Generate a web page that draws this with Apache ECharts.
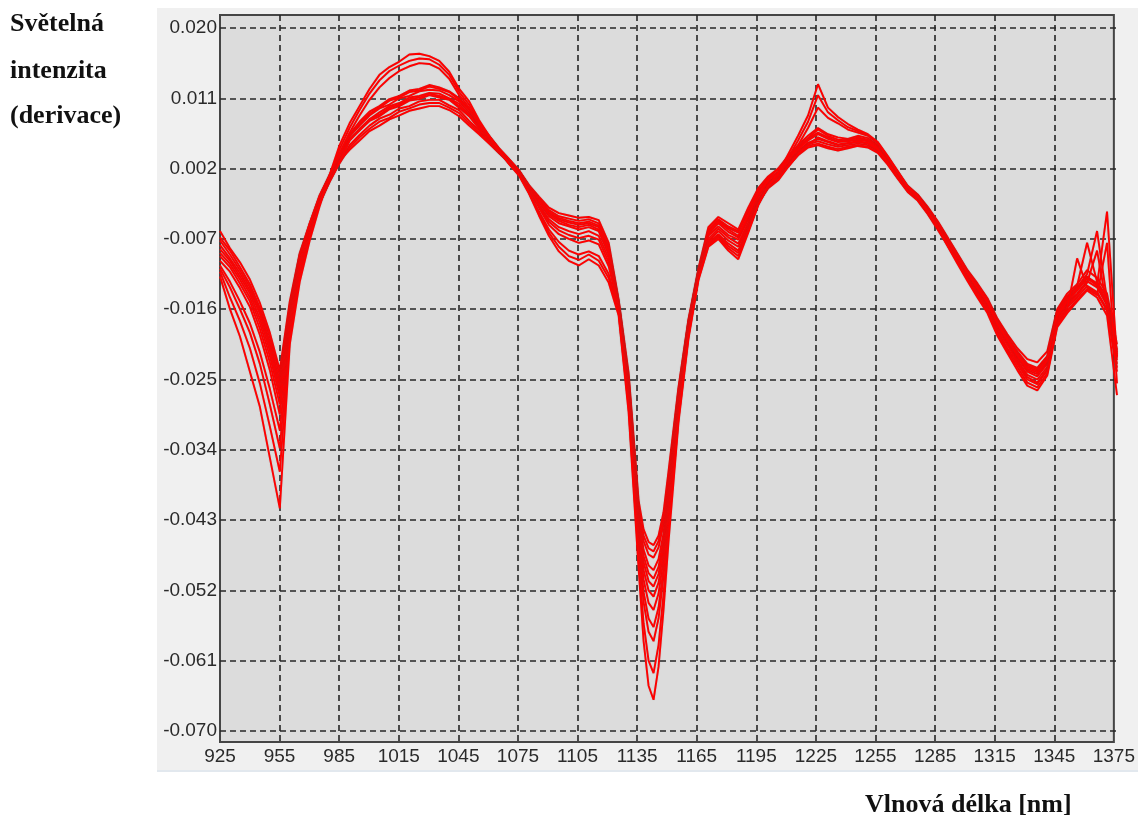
<!DOCTYPE html>
<html>
<head>
<meta charset="utf-8">
<script src="https://cdn.jsdelivr.net/npm/echarts@6/dist/echarts.min.js"></script>
<style>
html,body{margin:0;padding:0;background:#ffffff;}
#panel{position:absolute;left:157px;top:8px;width:981px;height:762px;background:#f0f0f0;border-bottom:2px solid #e2e8ee;}
#chart{position:absolute;left:0;top:0;width:1138px;height:816px;}
</style>
</head>
<body>
<div id="panel"></div>
<div id="chart"></div>
<script>
// Wavelengths [nm]
const wavelengths = [925,930,935,940,945,950,955,960,965,970,975,980,985,990,995,1000,1005,1010,1015,1020,1025,1030,1035,1040,1045,1050,1055,1060,1065,1070,1075,1080,1085,1090,1095,1100,1105,1110,1115,1120,1125,1130,1135,1137.5,1140,1142.5,1145,1147.5,1150,1155,1160,1165,1170,1175,1180,1185,1190,1195,1200,1205,1210,1215,1220,1225,1230,1235,1240,1245,1250,1255,1260,1265,1270,1275,1280,1285,1290,1295,1300,1305,1310,1315,1320,1325,1330,1335,1340,1345,1350,1355,1360,1365,1370,1375];

// Derivative spectra (light intensity derivative), one array per sample
const spectrum1 = [-0.0060,-0.0082,-0.0100,-0.0122,-0.0152,-0.0190,-0.0238,-0.0150,
 -0.0088,-0.0050,-0.0014,0.0012,0.0038,0.0064,0.0080,0.0093,0.0100,0.0109,0.0113,0.0120,0.0122,0.0127,0.0124,0.0119,0.0110,0.0096,0.0079,0.0062,0.0046,0.0032,0.0018,
 -0.0001,-0.0016,-0.0030,-0.0037,-0.0040,-0.0043,-0.0042,-0.0046,-0.0075,
 -0.0148,-0.0242,-0.0405,-0.0442,-0.0458,-0.0462,-0.0450,-0.0420,-0.0368,-0.0260,-0.0173,-0.0108,
 -0.0055,-0.0042,-0.0050,-0.0058,-0.0030,-0.0005,0.0010,0.0020,0.0036,0.0050,0.0062,
 0.0072,0.0064,0.0060,0.0058,0.0062,0.0059,0.0050,0.0034,0.0016,-0.0002,
 -0.0013,-0.0029,-0.0047,-0.0068,-0.0089,-0.0110,-0.0127,-0.0146,-0.0172,-0.0192,-0.0210,-0.0224,-0.0228,-0.0214,
 -0.0160,-0.0140,-0.0128,-0.0110,-0.0120,-0.0140,-0.0205];
const spectrum2 = [-0.0068,-0.0085,-0.0106,-0.0128,-0.0158,-0.0196,-0.0245,-0.0155,
 -0.0090,-0.0053,-0.0017,0.0010,0.0034,0.0061,0.0075,0.0088,0.0097,0.0102,0.0110,0.0113,0.0119,0.0121,0.0120,0.0114,0.0106,0.0092,0.0076,0.0061,0.0045,0.0031,0.0017,
 -0.0002,-0.0018,-0.0033,-0.0041,-0.0044,-0.0047,-0.0045,-0.0050,-0.0080,
 -0.0150,-0.0248,-0.0412,-0.0450,-0.0466,-0.0470,-0.0457,-0.0428,-0.0375,-0.0264,-0.0175,-0.0110,
 -0.0060,-0.0046,-0.0056,-0.0062,-0.0036,-0.0010,0.0006,0.0016,0.0031,0.0046,0.0058,
 0.0066,0.0060,0.0055,0.0057,0.0059,0.0056,0.0048,0.0032,0.0014,-0.0004,
 -0.0015,-0.0031,-0.0050,-0.0070,-0.0091,-0.0112,-0.0130,-0.0148,-0.0175,-0.0195,-0.0214,-0.0230,-0.0235,-0.0220,
 -0.0163,-0.0145,-0.0130,-0.0075,-0.0125,-0.0145,-0.0212];
const spectrum3 = [-0.0072,-0.0090,-0.0110,-0.0132,-0.0162,-0.0202,-0.0252,-0.0160,
 -0.0093,-0.0057,-0.0022,0.0005,0.0030,0.0056,0.0071,0.0083,0.0092,0.0100,0.0104,0.0111,0.0113,0.0117,0.0116,0.0110,0.0103,0.0089,0.0074,0.0057,0.0042,0.0029,0.0016,
 -0.0004,-0.0021,-0.0037,-0.0045,-0.0049,-0.0052,-0.0050,-0.0055,-0.0085,
 -0.0152,-0.0250,-0.0418,-0.0457,-0.0474,-0.0478,-0.0465,-0.0435,-0.0382,-0.0268,-0.0177,-0.0111,
 -0.0064,-0.0050,-0.0061,-0.0068,-0.0043,-0.0014,0.0003,0.0012,0.0029,0.0043,0.0053,
 0.0058,0.0054,0.0050,0.0052,0.0054,0.0052,0.0045,0.0029,0.0011,-0.0006,
 -0.0018,-0.0034,-0.0053,-0.0074,-0.0094,-0.0115,-0.0134,-0.0152,-0.0180,-0.0200,-0.0220,-0.0238,-0.0243,-0.0228,
 -0.0166,-0.0150,-0.0136,-0.0118,-0.0130,-0.0152,-0.0220];
const spectrum4 = [-0.0078,-0.0095,-0.0114,-0.0136,-0.0166,-0.0207,-0.0258,-0.0163,
 -0.0092,-0.0050,-0.0015,0.0012,0.0036,0.0058,0.0069,0.0081,0.0087,0.0096,0.0100,0.0107,0.0109,0.0114,0.0111,0.0108,0.0098,0.0087,0.0071,0.0059,0.0044,0.0031,0.0017,
 -0.0002,-0.0019,-0.0035,-0.0043,-0.0047,-0.0050,-0.0048,-0.0053,-0.0082,
 -0.0155,-0.0255,-0.0425,-0.0468,-0.0488,-0.0494,-0.0480,-0.0447,-0.0390,-0.0272,-0.0180,-0.0112,
 -0.0058,-0.0045,-0.0054,-0.0060,-0.0034,-0.0008,0.0008,0.0019,0.0034,0.0048,0.0059,
 0.0070,0.0062,0.0057,0.0056,0.0060,0.0057,0.0049,0.0033,0.0015,-0.0003,
 -0.0014,-0.0030,-0.0048,-0.0069,-0.0090,-0.0111,-0.0129,-0.0147,-0.0176,-0.0196,-0.0216,-0.0232,-0.0237,-0.0222,
 -0.0162,-0.0143,-0.0132,-0.0115,-0.0060,-0.0148,-0.0215];
const spectrum5 = [-0.0083,-0.0098,-0.0118,-0.0140,-0.0172,-0.0213,-0.0265,-0.0167,
 -0.0096,-0.0058,-0.0023,0.0004,0.0028,0.0050,0.0063,0.0075,0.0084,0.0089,0.0097,0.0100,0.0106,0.0108,0.0108,0.0101,0.0095,0.0081,0.0069,0.0055,0.0041,0.0029,0.0015,
 -0.0005,-0.0023,-0.0041,-0.0050,-0.0054,-0.0058,-0.0055,-0.0060,-0.0090,
 -0.0153,-0.0258,-0.0430,-0.0476,-0.0498,-0.0505,-0.0490,-0.0455,-0.0396,-0.0275,-0.0181,-0.0113,
 -0.0066,-0.0054,-0.0065,-0.0071,-0.0045,-0.0016,0.0001,0.0010,0.0027,0.0041,0.0051,
 0.0055,0.0051,0.0048,0.0050,0.0052,0.0050,0.0043,0.0027,0.0010,-0.0007,
 -0.0019,-0.0035,-0.0055,-0.0075,-0.0096,-0.0117,-0.0135,-0.0153,-0.0181,-0.0202,-0.0222,-0.0240,-0.0246,-0.0230,
 -0.0170,-0.0152,-0.0140,-0.0124,-0.0132,-0.0155,-0.0225];
const spectrum6 = [-0.0088,-0.0102,-0.0122,-0.0145,-0.0178,-0.0220,-0.0272,-0.0172,
 -0.0094,-0.0052,-0.0016,0.0011,0.0035,0.0062,0.0077,0.0090,0.0098,0.0107,0.0111,0.0118,0.0120,0.0125,0.0122,0.0118,0.0108,0.0095,0.0078,0.0062,0.0046,0.0032,0.0018,
 -0.0003,-0.0022,-0.0039,-0.0047,-0.0052,-0.0055,-0.0052,-0.0058,-0.0088,
 -0.0157,-0.0262,-0.0436,-0.0484,-0.0508,-0.0515,-0.0499,-0.0462,-0.0402,-0.0278,-0.0183,-0.0114,
 -0.0062,-0.0048,-0.0058,-0.0066,-0.0040,-0.0012,0.0005,0.0015,0.0031,0.0045,0.0056,
 0.0064,0.0058,0.0054,0.0055,0.0057,0.0055,0.0047,0.0031,0.0013,-0.0005,
 -0.0016,-0.0032,-0.0051,-0.0071,-0.0092,-0.0113,-0.0131,-0.0149,-0.0177,-0.0197,-0.0217,-0.0234,-0.0239,-0.0224,
 -0.0165,-0.0147,-0.0134,-0.0119,-0.0127,-0.0150,-0.0218];
const spectrum7 = [-0.0092,-0.0106,-0.0127,-0.0150,-0.0185,-0.0228,-0.0282,-0.0176,
 -0.0100,-0.0060,-0.0024,0.0003,0.0027,0.0047,0.0060,0.0071,0.0080,0.0085,0.0093,0.0097,0.0102,0.0104,0.0104,0.0098,0.0091,0.0078,0.0066,0.0053,0.0040,0.0028,0.0015,
 -0.0006,-0.0026,-0.0045,-0.0055,-0.0060,-0.0064,-0.0060,-0.0066,-0.0095,
 -0.0156,-0.0265,-0.0442,-0.0494,-0.0520,-0.0528,-0.0510,-0.0470,-0.0408,-0.0281,-0.0185,-0.0115,
 -0.0070,-0.0057,-0.0068,-0.0076,-0.0049,-0.0019,-0.0002,0.0008,0.0025,0.0039,0.0049,
 0.0052,0.0048,0.0045,0.0048,0.0050,0.0048,0.0041,0.0026,0.0008,-0.0009,
 -0.0020,-0.0037,-0.0056,-0.0077,-0.0098,-0.0119,-0.0137,-0.0155,-0.0183,-0.0204,-0.0225,-0.0244,-0.0250,-0.0234,
 -0.0172,-0.0155,-0.0142,-0.0126,-0.0085,-0.0158,-0.0230];
const spectrum8 = [-0.0098,-0.0112,-0.0133,-0.0157,-0.0193,-0.0238,-0.0295,-0.0180,
 -0.0102,-0.0057,-0.0021,0.0006,0.0030,0.0044,0.0056,0.0068,0.0075,0.0083,0.0088,0.0094,0.0097,0.0100,0.0100,0.0095,0.0087,0.0075,0.0064,0.0052,0.0040,0.0028,0.0016,
 -0.0006,-0.0028,-0.0048,-0.0059,-0.0065,-0.0069,-0.0066,-0.0071,-0.0100,
 -0.0160,-0.0270,-0.0450,-0.0506,-0.0536,-0.0545,-0.0524,-0.0480,-0.0415,-0.0285,-0.0187,-0.0116,
 -0.0073,-0.0060,-0.0072,-0.0080,-0.0052,-0.0022,-0.0004,0.0006,0.0023,0.0037,0.0047,
 0.0050,0.0046,0.0043,0.0046,0.0049,0.0047,0.0040,0.0025,0.0007,-0.0010,
 -0.0021,-0.0038,-0.0058,-0.0078,-0.0099,-0.0120,-0.0139,-0.0157,-0.0185,-0.0206,-0.0227,-0.0247,-0.0254,-0.0237,
 -0.0175,-0.0158,-0.0145,-0.0130,-0.0138,-0.0160,-0.0235];
const spectrum9 = [-0.0104,-0.0125,-0.0150,-0.0178,-0.0215,-0.0262,-0.0315,-0.0186,
 -0.0106,-0.0062,-0.0025,0.0004,0.0028,0.0056,0.0069,0.0083,0.0089,0.0098,0.0102,0.0109,0.0111,0.0116,0.0113,0.0109,0.0100,0.0088,0.0072,0.0056,0.0041,0.0028,0.0014,
 -0.0007,-0.0030,-0.0052,-0.0064,-0.0070,-0.0075,-0.0072,-0.0077,-0.0105,
 -0.0158,-0.0273,-0.0458,-0.0522,-0.0556,-0.0567,-0.0542,-0.0492,-0.0423,-0.0290,-0.0190,-0.0118,
 -0.0075,-0.0064,-0.0076,-0.0085,-0.0055,-0.0024,-0.0005,0.0005,0.0022,0.0038,0.0050,
 0.0060,0.0055,0.0051,0.0053,0.0055,0.0053,0.0045,0.0028,0.0010,-0.0008,
 -0.0017,-0.0033,-0.0052,-0.0073,-0.0094,-0.0115,-0.0133,-0.0151,-0.0179,-0.0199,-0.0219,-0.0236,-0.0241,-0.0226,
 -0.0168,-0.0150,-0.0136,-0.0121,-0.0129,-0.0035,-0.0222];
const spectrum10 = [-0.0108,-0.0132,-0.0160,-0.0190,-0.0230,-0.0282,-0.0338,-0.0192,
 -0.0112,-0.0065,-0.0025,0.0008,0.0040,0.0066,0.0088,0.0108,0.0124,0.0136,0.0145,0.0151,0.0155,0.0154,0.0148,0.0135,0.0114,0.0098,0.0076,0.0059,0.0042,0.0027,0.0013,
 -0.0010,-0.0035,-0.0058,-0.0074,-0.0085,-0.0090,-0.0086,-0.0092,-0.0115,
 -0.0162,-0.0278,-0.0466,-0.0535,-0.0573,-0.0585,-0.0556,-0.0502,-0.0430,-0.0294,-0.0192,-0.0119,
 -0.0076,-0.0066,-0.0079,-0.0088,-0.0057,-0.0025,-0.0004,0.0010,0.0030,0.0050,0.0072,
 0.0098,0.0085,0.0078,0.0070,0.0066,0.0062,0.0052,0.0034,0.0015,-0.0004,
 -0.0016,-0.0034,-0.0054,-0.0076,-0.0098,-0.0120,-0.0140,-0.0160,-0.0188,-0.0210,-0.0230,-0.0250,-0.0256,-0.0238,
 -0.0178,-0.0160,-0.0095,-0.0132,-0.0140,-0.0162,-0.0240];
const spectrum11 = [-0.0112,-0.0145,-0.0175,-0.0210,-0.0255,-0.0310,-0.0368,-0.0198,
 -0.0118,-0.0068,-0.0025,0.0010,0.0045,0.0072,0.0095,0.0116,0.0133,0.0145,0.0152,0.0158,0.0161,0.0160,0.0153,0.0140,0.0118,0.0102,0.0079,0.0060,0.0042,0.0026,0.0012,
 -0.0011,-0.0037,-0.0062,-0.0080,-0.0092,-0.0097,-0.0090,-0.0098,-0.0120,
 -0.0165,-0.0285,-0.0480,-0.0562,-0.0610,-0.0626,-0.0590,-0.0525,-0.0445,-0.0300,-0.0195,-0.0121,
 -0.0078,-0.0068,-0.0082,-0.0092,-0.0060,-0.0026,-0.0003,0.0012,0.0034,0.0056,0.0080,
 0.0114,0.0092,0.0082,0.0073,0.0068,0.0063,0.0053,0.0035,0.0016,-0.0004,
 -0.0016,-0.0035,-0.0055,-0.0078,-0.0100,-0.0122,-0.0142,-0.0162,-0.0191,-0.0213,-0.0234,-0.0254,-0.0260,-0.0242,
 -0.0180,-0.0162,-0.0148,-0.0134,-0.0142,-0.0075,-0.0255];
const spectrum12 = [-0.0118,-0.0160,-0.0195,-0.0240,-0.0285,-0.0350,-0.0415,-0.0205,
 -0.0125,-0.0072,-0.0028,0.0012,0.0050,0.0078,0.0100,0.0122,0.0140,0.0150,0.0157,0.0166,0.0167,0.0164,0.0158,0.0144,0.0122,0.0106,0.0082,0.0062,0.0043,0.0026,0.0011,
 -0.0012,-0.0040,-0.0066,-0.0086,-0.0098,-0.0104,-0.0096,-0.0104,-0.0126,
 -0.0168,-0.0292,-0.0492,-0.0585,-0.0642,-0.0660,-0.0618,-0.0545,-0.0458,-0.0305,-0.0198,-0.0123,
 -0.0080,-0.0070,-0.0085,-0.0096,-0.0062,-0.0027,-0.0002,0.0014,0.0038,0.0062,0.0088,
 0.0128,0.0098,0.0086,0.0077,0.0070,0.0064,0.0054,0.0036,0.0017,-0.0003,
 -0.0015,-0.0035,-0.0056,-0.0079,-0.0102,-0.0124,-0.0145,-0.0165,-0.0194,-0.0216,-0.0238,-0.0258,-0.0264,-0.0245,
 -0.0183,-0.0165,-0.0150,-0.0136,-0.0145,-0.0168,-0.0270];

// Axis ticks
const xTicks = {min: 925, max: 1375, step: 30};
const yTicks = {min: -0.070, max: 0.020, step: 0.009};

const yTitleLines = ['Světelná', 'intenzita', '(derivace)'];
const xTitle = 'Vlnová délka [nm]';

const spectra = [spectrum1,spectrum2,spectrum3,spectrum4,spectrum5,spectrum6,spectrum7,spectrum8,spectrum9,spectrum10,spectrum11,spectrum12];

const chart = echarts.init(document.getElementById('chart'), null, {renderer: 'canvas'});

const dashed = {show: true, lineStyle: {color: '#262626', width: 1.6, type: [6, 4]}};
const labelFont = {fontFamily: '"Liberation Sans", Arial, sans-serif', fontSize: 19, color: '#2a2a2a'};

const series = spectra.map((arr, k) => ({
  name: 'Vzorek ' + (k + 1),
  type: 'line',
  xAxisIndex: 1,
  yAxisIndex: 1,
  showSymbol: false,
  symbol: 'none',
  silent: true,
  data: arr.map((v, i) => [wavelengths[i], v]),
  lineStyle: {color: '#ff0000', width: 1.9, shadowColor: 'rgba(90,90,90,0.35)', shadowBlur: 1},
  z: 3
}));

chart.setOption({
  animation: false,
  backgroundColor: 'transparent',
  grid: [
    {left: 220, top: 15, width: 897, height: 727, show: true, backgroundColor: '#dcdcdc', borderColor: '#454545', borderWidth: 2, z: 0},
    {left: 220, top: 28, width: 897, height: 703, show: false}
  ],
  xAxis: [
    {type: 'value', gridIndex: 0, min: xTicks.min, max: xTicks.max, interval: xTicks.step,
     axisLine: {show: false}, axisTick: {show: false},
     axisLabel: Object.assign({margin: 5, showMinLabel: true, showMaxLabel: true, formatter: v => String(v)}, labelFont),
     splitLine: Object.assign({showMinLine: false, showMaxLine: false}, dashed)},
    {type: 'value', gridIndex: 1, min: xTicks.min, max: xTicks.max, show: false, splitLine: {show: false}}
  ],
  yAxis: [
    {type: 'value', gridIndex: 0, min: 0, max: 1, show: false, splitLine: {show: false}},
    {type: 'value', gridIndex: 1, min: yTicks.min, max: yTicks.max, interval: yTicks.step,
     axisLine: {show: false}, axisTick: {show: false},
     axisLabel: Object.assign({margin: 3, formatter: v => v.toFixed(3), showMinLabel: true, showMaxLabel: true}, labelFont),
     splitLine: dashed}
  ],
  series: series,
  graphic: [
    ...yTitleLines.map((t, i) => ({
      type: 'text', left: 10, top: [24, 71, 116][i] - 13,
      style: {text: t, font: 'bold 26px "Liberation Serif", "Times New Roman", serif', fill: '#111', textVerticalAlign: 'top'}
    })),
    {type: 'text', left: 865, top: 792,
     style: {text: xTitle, font: 'bold 26px "Liberation Serif", "Times New Roman", serif', fill: '#111'}}
  ]
});
</script>
</body>
</html>
